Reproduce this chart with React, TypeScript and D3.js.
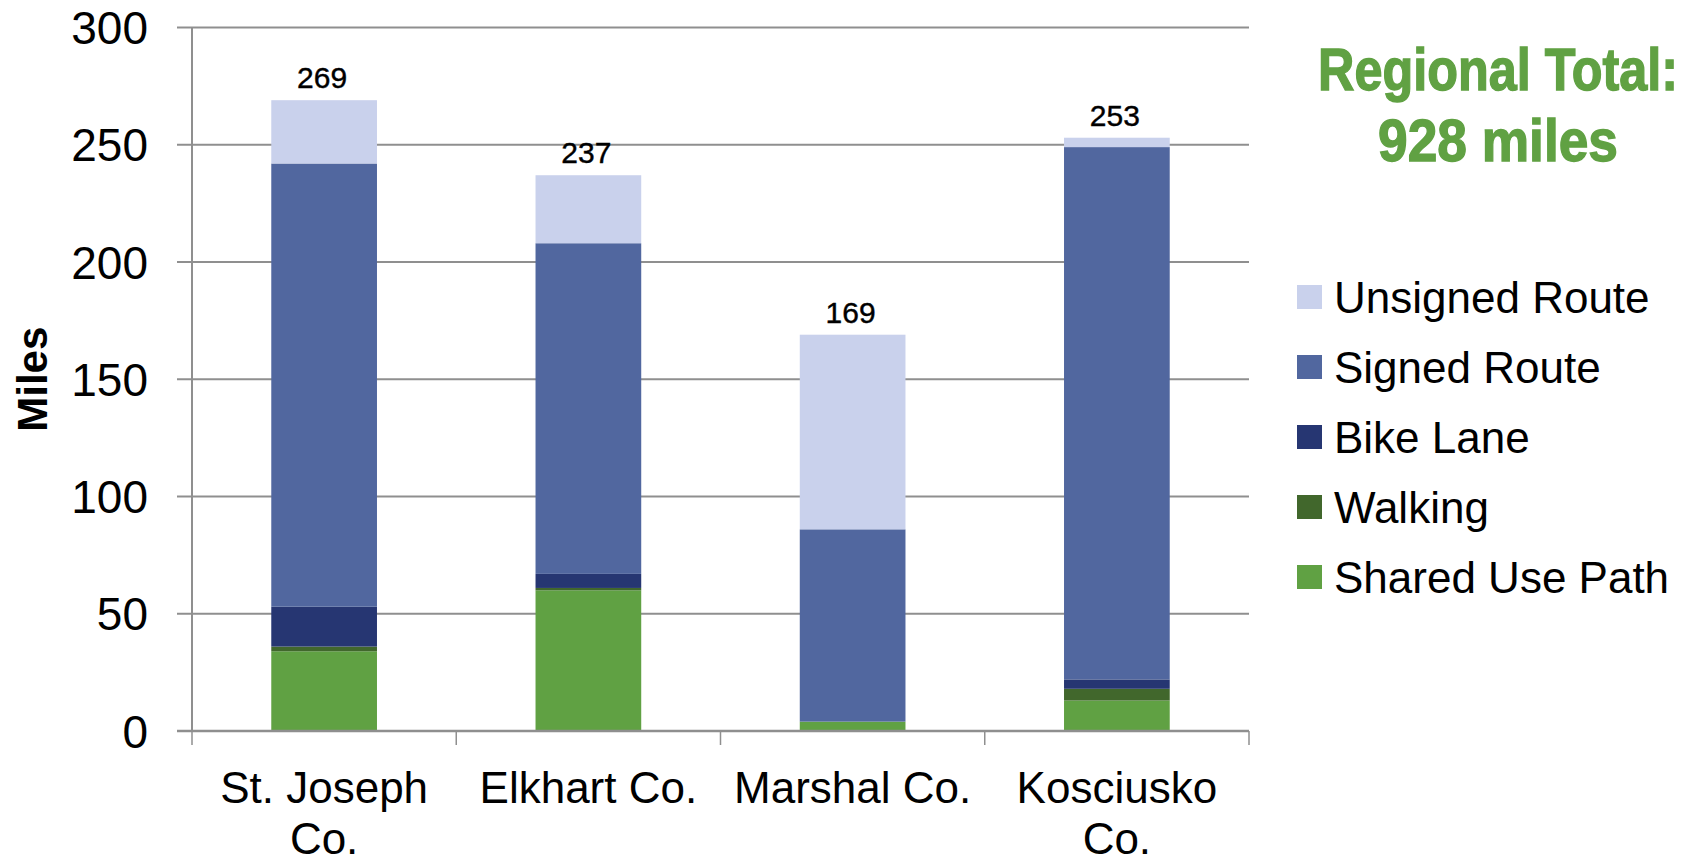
import React, { useEffect, useRef } from 'react';
import * as d3 from 'd3';

const counties = ['St. Joseph Co.', 'Elkhart Co.', 'Marshal Co.', 'Kosciusko Co.'];
const seriesNames = ['Shared Use Path', 'Walking', 'Bike Lane', 'Signed Route', 'Unsigned Route'];
const sharedUsePath = [34, 60, 4, 13];
const walking = [2, 1, 0, 5];
const bikeLane = [17, 6, 0, 4];
const signedRoute = [189, 141, 82, 227];
const unsignedRoute = [27, 29, 83, 4];
const totals = [269, 237, 169, 253];
const yTicks = [0, 50, 100, 150, 200, 250, 300];
const colors = ['#60a143', '#41672c', '#263672', '#51679f', '#c9d1ec'];
const titleLines = ['Regional Total:', '928 miles'];

const W = 1692;
const H = 862;

const App: React.FC = () => {
  const svgRef = useRef<SVGSVGElement>(null);

  useEffect(() => {
    if (!svgRef.current) return;
    const svg = d3.select(svgRef.current);
    svg.selectAll('*').remove();

    const left = 192, right = 1249, top = 27.5, bottom = 731;

    const rows = counties.map((c, i) => ({
      county: c,
      'Shared Use Path': sharedUsePath[i],
      'Walking': walking[i],
      'Bike Lane': bikeLane[i],
      'Signed Route': signedRoute[i],
      'Unsigned Route': unsignedRoute[i],
    }));

    const x = d3.scaleBand<string>()
      .domain(counties)
      .range([left, right])
      .paddingInner(0.6)
      .paddingOuter(0.3);

    const y = d3.scaleLinear().domain([0, 300]).range([bottom, top]);

    const stack = d3.stack<any>().keys(seriesNames);
    const layers = stack(rows);

    // grid lines
    svg.append('g')
      .selectAll('line')
      .data(yTicks)
      .enter()
      .append('line')
      .attr('x1', left - 15)
      .attr('x2', right)
      .attr('y1', d => y(d))
      .attr('y2', d => y(d))
      .attr('stroke', '#8f8f8f')
      .attr('stroke-width', 2);

    // bars
    const g = svg.append('g');
    layers.forEach((layer, li) => {
      g.append('g')
        .attr('fill', colors[li])
        .selectAll('rect')
        .data(layer)
        .enter()
        .append('rect')
        .attr('x', d => x(d.data.county)!)
        .attr('width', x.bandwidth())
        .attr('y', d => y(d[1]))
        .attr('height', d => Math.max(0, y(d[0]) - y(d[1])));
    });

    // axes lines
    svg.append('line')
      .attr('x1', left).attr('x2', left)
      .attr('y1', top).attr('y2', bottom)
      .attr('stroke', '#8f8f8f').attr('stroke-width', 2);
    svg.append('line')
      .attr('x1', left - 15).attr('x2', right)
      .attr('y1', bottom).attr('y2', bottom)
      .attr('stroke', '#8f8f8f').attr('stroke-width', 2.5);

    // category ticks on x axis
    const step = x.step();
    const tickXs = d3.range(counties.length + 1).map(i => left + i * step);
    svg.append('g')
      .selectAll('line')
      .data(tickXs)
      .enter()
      .append('line')
      .attr('x1', d => d).attr('x2', d => d)
      .attr('y1', bottom).attr('y2', bottom + 14)
      .attr('stroke', '#8f8f8f').attr('stroke-width', 1.5);

    // y tick labels
    svg.append('g')
      .selectAll('text')
      .data(yTicks)
      .enter()
      .append('text')
      .attr('x', 148)
      .attr('y', d => y(d))
      .attr('dy', '0.36em')
      .attr('text-anchor', 'end')
      .attr('font-family', "'Liberation Sans', Arial, sans-serif")
      .attr('font-size', 46)
      .attr('fill', '#000')
      .text(d => d);

    // y axis title
    svg.append('text')
      .attr('transform', `translate(47,${(top + bottom) / 2}) rotate(-90)`)
      .attr('text-anchor', 'middle')
      .attr('font-family', "'Liberation Sans', Arial, sans-serif")
      .attr('font-size', 42)
      .attr('font-weight', 'bold')
      .attr('fill', '#000')
      .text('Miles');

    // x labels with wrapping
    const xl = svg.append('g')
      .selectAll('text')
      .data(counties)
      .enter()
      .append('text')
      .attr('x', d => x(d)! + x.bandwidth() / 2)
      .attr('y', 803)
      .attr('text-anchor', 'middle')
      .attr('font-family', "'Liberation Sans', Arial, sans-serif")
      .attr('font-size', 44)
      .attr('fill', '#000');

    xl.each(function (d) {
      const t = d3.select(this);
      const cx = x(d)! + x.bandwidth() / 2;
      const words = d.split(' ');
      let line: string[] = [];
      let lineNo = 0;
      let tspan = t.append('tspan').attr('x', cx).attr('y', 803);
      words.forEach(w => {
        line.push(w);
        tspan.text(line.join(' '));
        if ((tspan.node() as SVGTextContentElement).getComputedTextLength() > step - 10 && line.length > 1) {
          line.pop();
          tspan.text(line.join(' '));
          line = [w];
          lineNo += 1;
          tspan = t.append('tspan').attr('x', cx).attr('y', 803 + lineNo * 51).text(w);
        }
      });
    });

    // totals
    svg.append('g')
      .selectAll('text')
      .data(totals)
      .enter()
      .append('text')
      .attr('x', (_, i) => x(counties[i])! + x.bandwidth() / 2 - 2)
      .attr('y', d => y(d) - 12)
      .attr('text-anchor', 'middle')
      .attr('font-family', "'Liberation Sans', Arial, sans-serif")
      .attr('font-size', 30)
      .attr('fill', '#000')
      .attr('stroke', '#000')
      .attr('stroke-width', 0.4)
      .text(d => d);

    // title (condensed bold, squeezed horizontally to fit)
    const titleWidths = [360, 240];
    svg.append('g')
      .selectAll('text')
      .data(titleLines)
      .enter()
      .append('text')
      .attr('text-anchor', 'middle')
      .attr('font-family', "'Liberation Sans', Arial, sans-serif")
      .attr('font-weight', 'bold')
      .attr('font-size', 60)
      .attr('fill', '#60a143')
      .attr('stroke', '#60a143')
      .attr('stroke-width', 1.4)
      .text(d => d)
      .each(function (_, i) {
        const len = (this as SVGTextContentElement).getComputedTextLength();
        const k = titleWidths[i] / len;
        d3.select(this).attr('transform', `translate(1498,${90 + i * 71}) scale(${k},1)`);
      });

    // legend (top to bottom: reversed stack order)
    const legendItems = seriesNames.map((n, i) => ({ n, c: colors[i] })).reverse();
    const lg = svg.append('g')
      .selectAll('g')
      .data(legendItems)
      .enter()
      .append('g')
      .attr('transform', (_, i) => `translate(1297,${297 + i * 70})`);
    lg.append('rect')
      .attr('x', 0)
      .attr('y', -12)
      .attr('width', 25)
      .attr('height', 24)
      .attr('fill', d => d.c);
    lg.append('text')
      .attr('x', 37)
      .attr('y', 0)
      .attr('dy', '0.36em')
      .attr('font-family', "'Liberation Sans', Arial, sans-serif")
      .attr('font-size', 44)
      .attr('fill', '#000')
      .text(d => d.n);
  }, []);

  return (
    <svg
      ref={svgRef}
      width={W}
      height={H}
      style={{ position: 'absolute', left: 0, top: 0, background: '#fff' }}
    />
  );
};

export default App;
